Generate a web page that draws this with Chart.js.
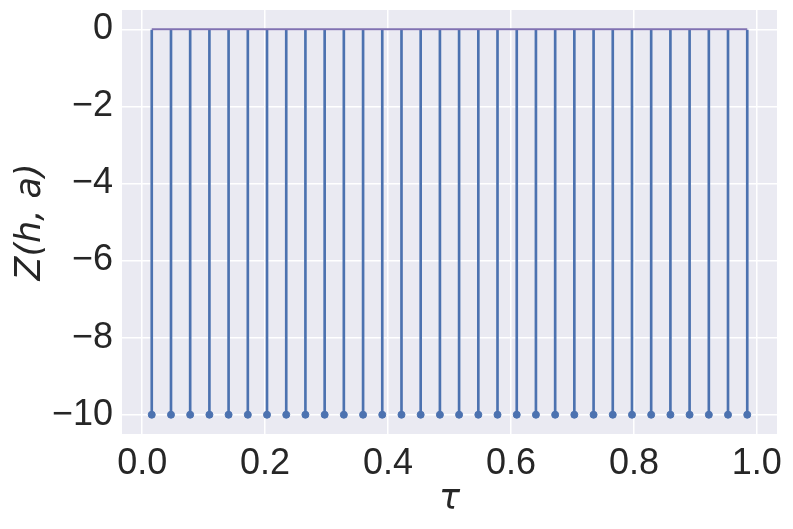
<!DOCTYPE html>
<html>
<head>
<meta charset="utf-8">
<script src="https://cdn.jsdelivr.net/npm/chart.js@4/dist/chart.umd.min.js"></script>
<style>
  html, body { margin: 0; padding: 0; background: #ffffff; }
  #wrap { width: 793px; height: 529px; }
</style>
</head>
<body>
<div id="wrap"><canvas id="stem-chart" width="793" height="529"></canvas></div>
<script>
// stem positions tau and values Z(h,a)
var tau = [0.0156, 0.0469, 0.0781, 0.1094, 0.1406, 0.1719, 0.2031, 0.2344,
           0.2656, 0.2969, 0.3281, 0.3594, 0.3906, 0.4219, 0.4531, 0.4844,
           0.5156, 0.5469, 0.5781, 0.6094, 0.6406, 0.6719, 0.7031, 0.7344,
           0.7656, 0.7969, 0.8281, 0.8594, 0.8906, 0.9219, 0.9531, 0.9844];
var z_vals = [-10, -10, -10, -10, -10, -10, -10, -10,
              -10, -10, -10, -10, -10, -10, -10, -10,
              -10, -10, -10, -10, -10, -10, -10, -10,
              -10, -10, -10, -10, -10, -10, -10, -10];
var baseline = 0;
var x_ticks = [0.0, 0.2, 0.4, 0.6, 0.8, 1.0];
var y_ticks = [0, -2, -4, -6, -8, -10];

var c_stem = "#4C72B0";
var c_base = "#8172B2";
var c_text = "#262626";

var stems = [], marks = [];
for (var i = 0; i < tau.length; i++) {
    stems.push({ x: tau[i], y: [z_vals[i], baseline] });
    marks.push({ x: tau[i], y: z_vals[i] });
}
var base_line = [
    { x: Math.min.apply(null, tau), y: baseline },
    { x: Math.max.apply(null, tau), y: baseline }
];

var bgPlugin = {
    id: 'bg',
    beforeDraw: function (chart) {
        var a = chart.chartArea, ctx = chart.ctx;
        ctx.save();
        ctx.fillStyle = '#EAEAF2';
        ctx.fillRect(a.left, a.top, a.right - a.left, a.bottom - a.top);
        ctx.restore();
    }
};

var tickFont = { family: 'Liberation Sans', size: 36 };
var titleFont = { family: 'DejaVu Sans', size: 35, style: 'italic' };

function noPad(s) {
    s.paddingTop = 0; s.paddingBottom = 0;
    s.paddingLeft = 0; s.paddingRight = 0;
}

var m_chart = new Chart(document.getElementById('stem-chart'), {
    type: 'bar',
    data: {
        datasets: [
            {
                type: 'scatter',
                data: marks,
                backgroundColor: c_stem,
                borderColor: c_stem,
                pointRadius: 3.5,
                pointHoverRadius: 3.5,
                order: 0
            },
            {
                type: 'line',
                data: base_line,
                borderColor: c_base,
                borderWidth: 1.8,
                pointRadius: 0,
                fill: false,
                order: 1
            },
            {
                type: 'bar',
                data: stems,
                backgroundColor: c_stem,
                borderWidth: 0,
                barThickness: 2,
                order: 2
            }
        ]
    },
    options: {
        responsive: false,
        animation: false,
        layout: { padding: { top: 10, right: 16, left: 0, bottom: 0 } },
        plugins: {
            legend: { display: false },
            tooltip: { enabled: false }
        },
        scales: {
            x: {
                type: 'linear',
                offset: false,
                min: -0.0328,
                max: 1.0328,
                grid: { color: '#ffffff', lineWidth: 1.5, drawTicks: false, offset: false },
                border: { display: false },
                afterBuildTicks: function (s) { s.ticks = x_ticks.map(function (v) { return { value: v }; }); },
                afterFit: function (s) { s.height = 95; noPad(s); },
                ticks: {
                    color: c_text,
                    font: tickFont,
                    padding: 8,
                    maxRotation: 0,
                    callback: function (v) { return v.toFixed(1); }
                },
                title: {
                    display: true,
                    text: 'τ',
                    color: c_text,
                    font: titleFont,
                    padding: { top: 0, bottom: 8 }
                }
            },
            y: {
                type: 'linear',
                min: -10.5,
                max: 0.5,
                grid: { color: '#ffffff', lineWidth: 1.5, drawTicks: false },
                border: { display: false },
                afterBuildTicks: function (s) { s.ticks = y_ticks.map(function (v) { return { value: v }; }); },
                afterFit: function (s) { s.width = 122; noPad(s); },
                ticks: {
                    color: c_text,
                    font: tickFont,
                    padding: 9,
                    callback: function (v) { return String(v).replace('-', '\u2212'); }
                },
                title: {
                    display: true,
                    text: 'Z(h, a)',
                    color: c_text,
                    font: titleFont,
                    padding: { top: 10, bottom: 0 }
                }
            }
        }
    },
    plugins: [bgPlugin]
});
</script>
</body>
</html>
